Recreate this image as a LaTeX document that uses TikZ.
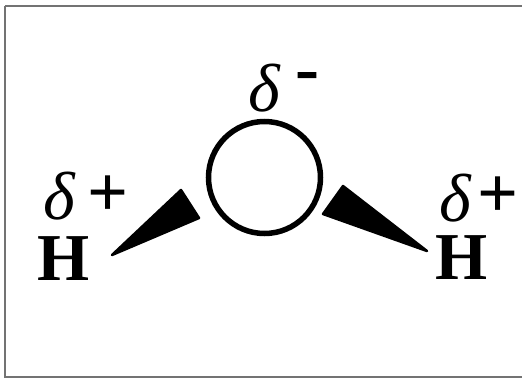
\documentclass[tikz,border=0pt]{standalone}
\usepackage{fontspec}
\setmainfont{Liberation Serif}
\usetikzlibrary{positioning}
\begin{document}
\begin{tikzpicture}[x=1pt,y=-1pt,
        charge/.style={inner sep=0pt, font=\fontsize{68}{68}\selectfont\itshape},
        atom/.style={inner sep=0pt, font=\fontsize{67}{67}\selectfont\bfseries},
        sign/.style={inner sep=0pt, font=\fontsize{72}{72}\selectfont\bfseries},
        oxygen/.style={draw, circle, line width=5.5pt, minimum size=112pt, inner sep=0pt},
        wedge/.style={fill=black, draw=black, line width=2.5pt, line join=round}
    ]
        \useasboundingbox (0,0) rectangle (522,378);
        \fill[white] (0,0) rectangle (522,378);
        % Frame
        \draw[black!55, line width=2pt] (5,6) -- (522,6) (5,6) -- (5,377) -- (522,377);

        % Oxygen side
        \node[oxygen] (oxygen) at (264.5,177.5) {};
        \node[charge] (deltaO) at (264,88) {δ};
        \node[sign] (minus) at (307.5,82) {-};

        % Hydrogen sides
        \node[atom] (hleft) at (64,259) {H};
        \node[charge] (deltaL) at (59,196) {δ};
        \node[sign] (plusL) at (108.5,196) {+};
        \node[atom] (hright) at (461.5,258) {H};
        \node[charge] (deltaR) at (455,198) {δ};
        \node[sign] (plusR) at (498,197) {+};

        % Wedge bonds
        \coordinate (tipL) at (112,255);
        \coordinate (tipR) at (427,251);
        \filldraw[wedge] (tipL) -- (181,190) -- (199,218) -- cycle;
        \filldraw[wedge] (tipR) -- (343,186) -- (323,214) -- cycle;
    \end{tikzpicture}
\end{document}
